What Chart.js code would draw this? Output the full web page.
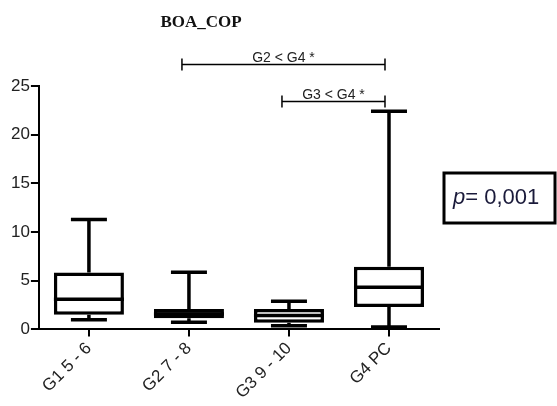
<!DOCTYPE html>
<html>
<head>
<meta charset="utf-8">
<script src="https://cdn.jsdelivr.net/npm/chart.js@4"></script>
<style>
  html, body { margin: 0; padding: 0; background: #fff; }
  #wrap { width: 557px; height: 406px; }
</style>
</head>
<body>
<div id="wrap"><canvas id="c"></canvas></div>
<script>
// BOA_COP box plot
const groups = ['G1 5 - 6', 'G2 7 - 8', 'G3 9 - 10', 'G4 PC'];
const whiskerMin = [1.0, 0.75, 0.38, 0.24];
const q1 = [1.5, 1.15, 0.7, 2.3];
const median = [3.1, 1.6, 1.43, 4.33];
const q3 = [5.85, 2.1, 2.1, 6.45];
const whiskerMax = [11.3, 5.87, 2.9, 22.4];
const boxFill = ['#ffffff', '#000000', '#ffffff', '#ffffff'];
const yTicks = [0, 5, 10, 15, 20, 25];

// significance brackets: from group index, to group index, y value, label
const brackets = [
    { from: 1, to: 3, y: 27.2, label: 'G2 < G4 *' },
    { from: 2, to: 3, y: 23.4, label: 'G3 < G4 *' }
];
const titleText = 'BOA_COP';
const pValue = '0,001';

const boxExtras = {
    id: 'boxExtras',
    afterDatasetsDraw(chart) {
        const ctx = chart.ctx;
        const x = chart.scales.x;
        const y = chart.scales.y;
        const meta = chart.getDatasetMeta(0);
        ctx.save();
        ctx.strokeStyle = '#000';
        ctx.lineWidth = 3.5;
        ctx.lineCap = 'butt';
        groups.forEach((g, i) => {
            const cx = x.getPixelForValue(i);
            const bar = meta.data[i];
            const half = bar.width / 2;
            const cap = 18;
            ctx.beginPath();
            // upper whisker
            ctx.moveTo(cx, y.getPixelForValue(q3[i]));
            ctx.lineTo(cx, y.getPixelForValue(whiskerMax[i]));
            ctx.moveTo(cx - cap, y.getPixelForValue(whiskerMax[i]));
            ctx.lineTo(cx + cap, y.getPixelForValue(whiskerMax[i]));
            // lower whisker
            ctx.moveTo(cx, y.getPixelForValue(q1[i]));
            ctx.lineTo(cx, y.getPixelForValue(whiskerMin[i]));
            ctx.moveTo(cx - cap, y.getPixelForValue(whiskerMin[i]));
            ctx.lineTo(cx + cap, y.getPixelForValue(whiskerMin[i]));
            // median
            ctx.moveTo(cx - half, y.getPixelForValue(median[i]));
            ctx.lineTo(cx + half, y.getPixelForValue(median[i]));
            ctx.stroke();
        });

        // brackets
        ctx.lineWidth = 1.5;
        ctx.fillStyle = '#222';
        ctx.font = '14px "Liberation Sans", Arial, sans-serif';
        ctx.textAlign = 'center';
        ctx.textBaseline = 'bottom';
        brackets.forEach(b => {
            const x1 = x.getPixelForValue(b.from) - 7;
            const x2 = x.getPixelForValue(b.to) - 4;
            const yy = y.getPixelForValue(b.y);
            ctx.beginPath();
            ctx.moveTo(x1, yy); ctx.lineTo(x2, yy);
            ctx.moveTo(x1, yy - 6); ctx.lineTo(x1, yy + 6);
            ctx.moveTo(x2, yy - 6); ctx.lineTo(x2, yy + 6);
            ctx.stroke();
            ctx.fillText(b.label, (x1 + x2) / 2, yy + 1);
        });

        // title
        ctx.fillStyle = '#111';
        ctx.font = 'bold 17px "Liberation Serif", "Times New Roman", serif';
        ctx.textBaseline = 'middle';
        ctx.fillText(titleText, 201, 23);

        // p-value box
        ctx.lineWidth = 3;
        ctx.strokeRect(444, 173, 111, 50);
        ctx.textAlign = 'left';
        ctx.font = 'italic 22px "Liberation Sans", Arial, sans-serif';
        ctx.fillStyle = '#1a1a3a';
        ctx.fillText('p', 453, 198);
        const pw = ctx.measureText('p').width;
        ctx.font = '22px "Liberation Sans", Arial, sans-serif';
        ctx.fillText('= ' + pValue, 453 + pw, 198);
        ctx.restore();
    }
};

new Chart(document.getElementById('c'), {
    type: 'bar',
    data: {
        labels: groups,
        datasets: [{
            label: titleText,
            data: groups.map((g, i) => [q1[i], q3[i]]),
            backgroundColor: boxFill,
            borderColor: '#000',
            borderWidth: 3.5,
            borderSkipped: false,
            barPercentage: 0.7,
            categoryPercentage: 1.0
        }]
    },
    options: {
        responsive: true,
        maintainAspectRatio: false,
        animation: false,
        layout: { padding: { top: 86, right: 118, left: 10, bottom: 1 } },
        plugins: {
            legend: { display: false },
            tooltip: { enabled: false },
            title: { display: false }
        },
        scales: {
            x: {
                offset: true,
                grid: { display: true, drawOnChartArea: false, drawTicks: true, tickLength: 7, color: '#000', lineWidth: 2, offset: false },
                border: { display: true, color: '#000', width: 2 },
                ticks: {
                    color: '#222',
                    font: { family: '"Liberation Sans", Arial, sans-serif', size: 17 },
                    minRotation: 45,
                    maxRotation: 45,
                    padding: 2
                }
            },
            y: {
                min: 0,
                max: 25,
                afterBuildTicks: (s) => { s.ticks = yTicks.map(v => ({ value: v })); },
                grid: { display: true, drawOnChartArea: false, drawTicks: true, tickLength: 8, color: '#000', lineWidth: 2 },
                border: { display: true, color: '#000', width: 2 },
                ticks: {
                    color: '#222',
                    font: { family: '"Liberation Sans", Arial, sans-serif', size: 17 },
                    padding: 1
                }
            }
        }
    },
    plugins: [boxExtras]
});
</script>
</body>
</html>
